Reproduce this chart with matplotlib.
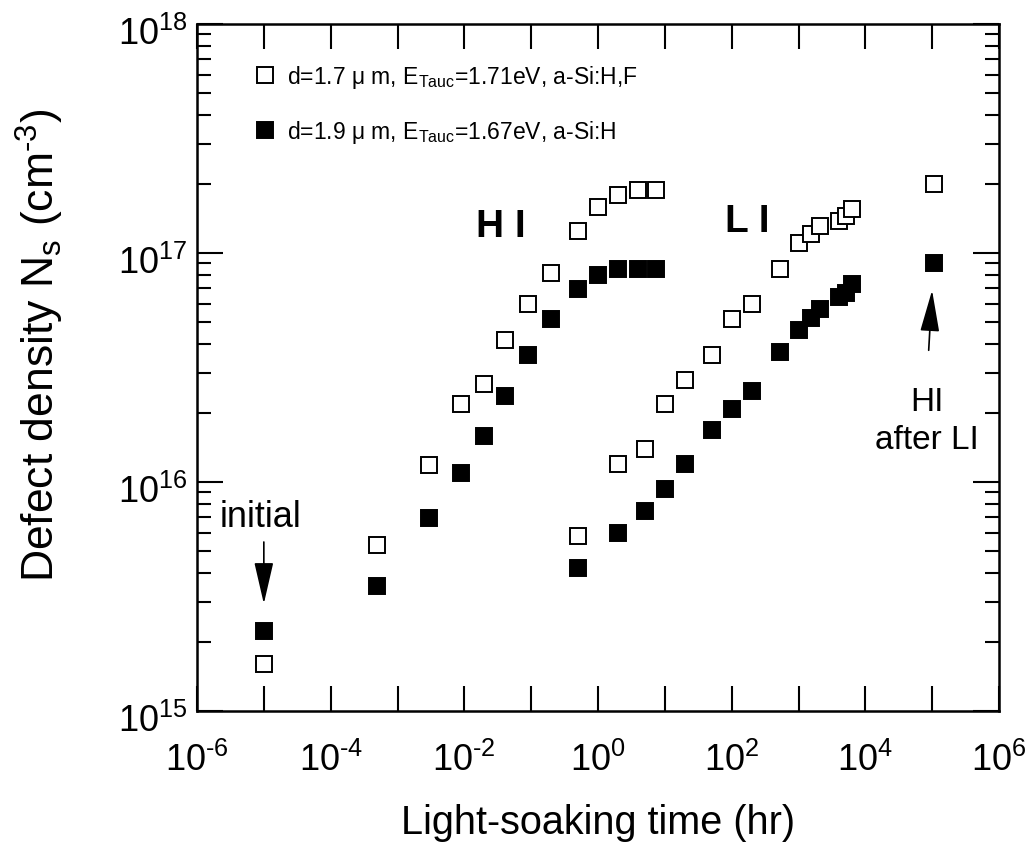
import matplotlib
matplotlib.use("Agg")
import matplotlib.pyplot as plt
from matplotlib.lines import Line2D
from matplotlib.ticker import FixedLocator, LogLocator, NullFormatter
from matplotlib.transforms import ScaledTranslation

plt.rcParams['font.family'] = ['Liberation Sans', 'DejaVu Sans']
plt.rcParams['mathtext.fontset'] = 'custom'
plt.rcParams['mathtext.rm'] = 'Liberation Sans'
plt.rcParams['mathtext.it'] = 'Liberation Sans:italic'

HY = '\u2010'  # short hyphen instead of the math minus

# high-intensity soaking (first point = initial state)
hi_t = [1e-5, 5e-4, 3e-3, 9e-3, 0.02, 0.04, 0.09, 0.2, 0.5, 1.0, 2.0, 4.0, 7.4]
hi_open = [1.6e15, 5.3e15, 1.19e16, 2.18e16, 2.67e16, 4.15e16, 6.0e16, 8.2e16,
           1.25e17, 1.59e17, 1.8e17, 1.89e17, 1.89e17]
hi_filled = [2.23e15, 3.53e15, 6.97e15, 1.09e16, 1.59e16, 2.38e16, 3.57e16, 5.16e16,
             6.98e16, 7.98e16, 8.5e16, 8.5e16, 8.5e16]

# low-intensity soaking
li_t = [0.5, 2.0, 5.0, 10, 20, 50, 100, 200, 520, 1030, 1540, 2070, 4100, 5200, 6300]
li_open = [5.8e15, 1.2e16, 1.4e16, 2.18e16, 2.78e16, 3.57e16, 5.16e16, 6.0e16,
           8.5e16, 1.11e17, 1.21e17, 1.31e17, 1.38e17, 1.45e17, 1.55e17]
li_filled = [4.2e15, 6.0e15, 7.5e15, 9.3e15, 1.2e16, 1.69e16, 2.09e16, 2.49e16,
             3.7e16, 4.6e16, 5.2e16, 5.7e16, 6.4e16, 6.7e16, 7.3e16]

# HI after LI
after_t = [1.08e5]
after_open = [2.0e17]
after_filled = [9.0e16]

labels = ['d=1.7 \u03bc m, E$_\\mathregular{Tauc}$=1.71eV, a-Si:H,F',
          'd=1.9 \u03bc m, E$_\\mathregular{Tauc}$=1.67eV, a-Si:H']
xexp = [-6, -4, -2, 0, 2, 4, 6]
yexp = [15, 16, 17, 18]


def pow_label(e):
    s = str(e).replace('-', HY)
    return r'$\mathregular{10^{%s}}$' % s


fig = plt.figure(figsize=(10.35, 8.62), dpi=100)
ax = fig.add_axes([197/1035, 1-712/862, (999-197)/1035, (712-25)/862])
ax.set_xscale('log')
ax.set_yscale('log')

ms = 11.6
mew = 1.4
open_style = dict(marker='s', ls='none', ms=ms, mfc='white', mec='black', mew=mew)
fill_style = dict(marker='s', ls='none', ms=ms, mfc='black', mec='black', mew=mew)

for t, yo, yf in [(hi_t, hi_open, hi_filled), (li_t, li_open, li_filled),
                  (after_t, after_open, after_filled)]:
    ax.plot(t, yf, **fill_style)
    ax.plot(t, yo, **open_style)

ax.set_xlim(1e-6, 1e6)
ax.set_ylim(1e15, 1e18)

ax.set_xticks([10.0**e for e in xexp], [pow_label(e) for e in xexp])
ax.xaxis.set_minor_locator(FixedLocator([10.0**k for k in range(-5, 6, 2)]))
ax.xaxis.set_minor_formatter(NullFormatter())
ax.set_yticks([10.0**e for e in yexp], [pow_label(e) for e in yexp])
ax.yaxis.set_minor_locator(LogLocator(base=10, subs=range(2, 10), numticks=20))
ax.yaxis.set_minor_formatter(NullFormatter())

ax.tick_params(which='both', direction='in', top=True, right=True, width=1.5, colors='black')
ax.tick_params(axis='x', which='both', length=18, labelsize=26, pad=22)
ax.tick_params(axis='y', which='major', length=19, labelsize=26, pad=7)
ax.tick_params(axis='y', which='minor', length=10)
for s in ax.spines.values():
    s.set_linewidth(1.8)

# y tick labels sit a little below their ticks in the original
shift = ScaledTranslation(0, -6/100, fig.dpi_scale_trans)
for lab in ax.get_yticklabels():
    lab.set_transform(lab.get_transform() + shift)

ax.set_xlabel('Light-soaking time (hr)', fontsize=28.5)
ax.xaxis.set_label_coords(0.5, -0.162)
ax.xaxis.label.set_va('center')
ax.set_ylabel('Defect density N$_\\mathregular{s}$ (cm$^\\mathregular{%s3}$)' % HY, fontsize=32)
ax.yaxis.set_label_coords(-0.196, 0.534)
ax.yaxis.label.set_va('center')

handles = [Line2D([], [], **open_style), Line2D([], [], **fill_style)]
ax.legend(handles, labels, loc='upper left', bbox_to_anchor=(0.071, 0.943), frameon=False,
          fontsize=16.5, borderpad=0, borderaxespad=0, handlelength=1.0, handletextpad=0.45,
          labelspacing=1.2)

ax.text(0.0349, 1.315e17, 'H I', fontsize=28, fontweight='bold', ha='center', va='center')
ax.text(174, 1.377e17, 'L I', fontsize=28, fontweight='bold', ha='center', va='center')

ax.text(8.8e-6, 7.05e15, 'initial', fontsize=26, ha='center', va='center')
ax.annotate('', xy=(1e-5, 2.94e15), xytext=(1e-5, 5.47e15),
            arrowprops=dict(arrowstyle='-|>,head_length=1.3,head_width=0.3', color='black',
                            lw=1.2, mutation_scale=20, shrinkA=0, shrinkB=0))
ax.text(8.3e4, 1.85e16, 'HI\nafter LI', fontsize=24, ha='center', va='center',
        multialignment='center', linespacing=1.3)
ax.annotate('', xy=(9.97e4, 6.87e16), xytext=(8.87e4, 3.76e16),
            arrowprops=dict(arrowstyle='-|>,head_length=1.3,head_width=0.3', color='black',
                            lw=1.2, mutation_scale=20, shrinkA=0, shrinkB=0))

fig.savefig('out.png', dpi=100)
